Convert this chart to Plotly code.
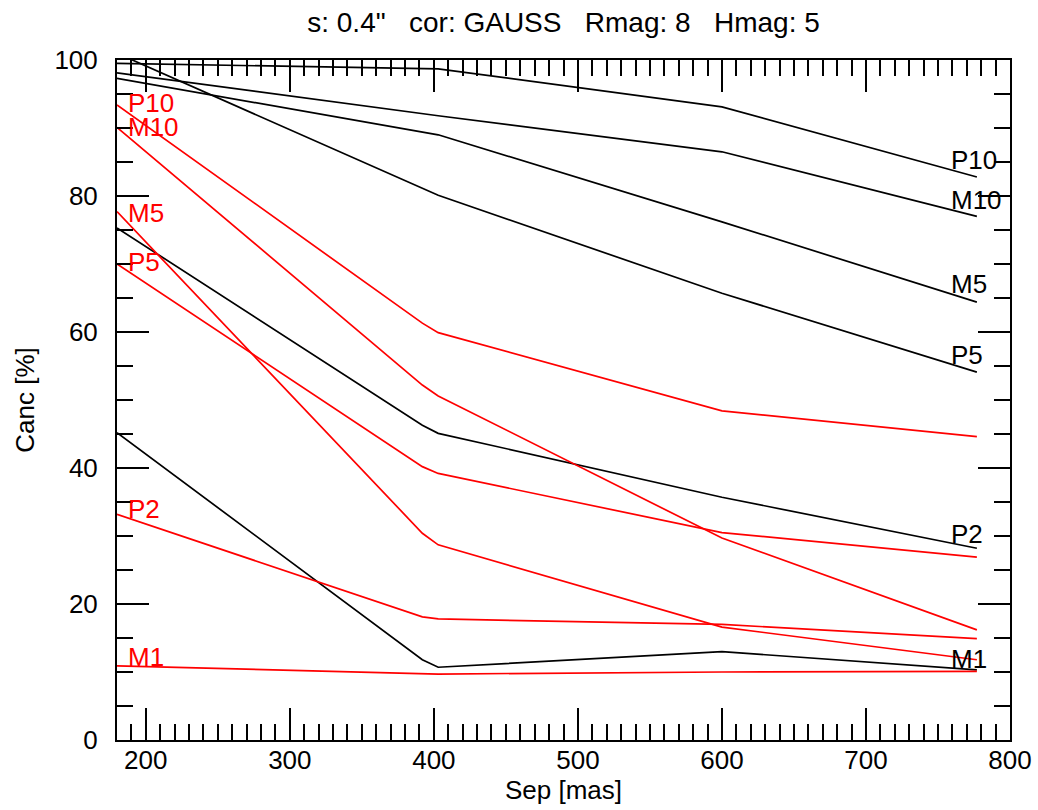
import numpy as np
import plotly.graph_objects as go

# ---- data ----
sep = [180, 392, 403, 600, 777]

black_names = ["P10", "M10", "M5", "P5", "P2", "M1"]
black_P10 = [99.5, 98.75, 98.7, 93.1, 82.8]
black_M10 = [98.1, 92.1, 91.8, 86.5, 77.0]
black_M5 = [97.3, 89.4, 89.0, 76.2, 64.4]
black_P5 = [101.0, 81.2, 80.1, 65.7, 54.1]
black_P2 = [75.3, 46.3, 45.1, 35.7, 28.2]
black_M1 = [45.2, 11.8, 10.7, 13.0, 10.3]

red_names = ["P10", "M10", "M5", "P5", "P2", "M1"]
red_P10 = [93.4, 61.3, 59.9, 48.4, 44.6]
red_M10 = [90.1, 52.2, 50.6, 29.7, 16.2]
red_M5 = [77.7, 30.4, 28.7, 16.6, 11.8]
red_P5 = [70.0, 40.2, 39.2, 30.5, 26.9]
red_P2 = [33.2, 18.1, 17.8, 17.0, 14.9]
red_M1 = [10.9, 9.8, 9.7, 10.0, 10.1]

x_ticks = [200, 300, 400, 500, 600, 700, 800]
y_ticks = [0, 20, 40, 60, 80, 100]

title_text = 's: 0.4"   cor: GAUSS   Rmag: 8   Hmag: 5'
x_title = "Sep [mas]"
y_title = "Canc [%]"

black_series = [black_P10, black_M10, black_M5, black_P5, black_P2, black_M1]
red_series = [red_P10, red_M10, red_M5, red_P5, red_P2, red_M1]

# ---- style ----
FONT = "Liberation Sans, Arial, Helvetica, sans-serif"
FS = 26
LW = 1.7
LABEL_X_LEFT = 187    # where red labels start (data units)
LABEL_X_RIGHT = 758   # where black labels start (data units)

fig = go.Figure()
for name, ys in zip(black_names, black_series):
    fig.add_trace(go.Scatter(x=sep, y=ys, mode="lines", name="b" + name,
                             line=dict(color="#000000", width=LW), showlegend=False))
for name, ys in zip(red_names, red_series):
    fig.add_trace(go.Scatter(x=sep, y=ys, mode="lines", name="r" + name,
                             line=dict(color="#ff0000", width=LW), showlegend=False))

annotations = []
for name, ys in zip(red_names, red_series):
    yb = float(np.interp(LABEL_X_LEFT, sep, ys))
    annotations.append(dict(x=LABEL_X_LEFT, y=yb, xref="x", yref="y", text=name,
                            showarrow=False, xanchor="left", yanchor="middle",
                            yshift=0.35 * FS, xshift=-1,
                            font=dict(family=FONT, size=FS, color="#ff0000")))
for name, ys in zip(black_names, black_series):
    yb = float(np.interp(LABEL_X_RIGHT, sep, ys))
    annotations.append(dict(x=LABEL_X_RIGHT, y=yb, xref="x", yref="y", text=name,
                            showarrow=False, xanchor="left", yanchor="middle",
                            yshift=0.35 * FS, xshift=-1,
                            font=dict(family=FONT, size=FS, color="#000000")))

axis_common = dict(
    showgrid=False, zeroline=False, showline=True, linecolor="#000000", linewidth=2,
    mirror="allticks", ticks="inside", ticklen=32, tickwidth=1.6, tickcolor="#000000",
    tickfont=dict(family=FONT, size=FS, color="#000000"), automargin=False,
)

fig.update_layout(
    width=1038, height=810, autosize=False,
    margin=dict(l=117, r=28, t=60, b=70, autoexpand=False),
    paper_bgcolor="white", plot_bgcolor="white",
    font=dict(family=FONT, size=FS, color="#000000"),
    title=dict(text=title_text, x=0.5, xref="paper", y=1 - 22 / 810, yref="container",
               xanchor="center", yanchor="middle", automargin=False,
               font=dict(family=FONT, size=28, color="#000000")),
    annotations=annotations,
)
fig.update_xaxes(range=[180, 800], tickmode="array", tickvals=x_ticks,
                 ticktext=[str(v) for v in x_ticks], ticklabelstandoff=-4,
                 minor=dict(dtick=10, tick0=0, ticks="inside", ticklen=16, tickwidth=1.6,
                            tickcolor="#000000", showgrid=False),
                 title=dict(text=x_title, standoff=6, font=dict(family=FONT, size=FS)),
                 **axis_common)
fig.update_yaxes(range=[0, 100], tickmode="array", tickvals=y_ticks,
                 ticktext=[str(v) for v in y_ticks], ticklabelstandoff=12,
                 minor=dict(dtick=5, tick0=0, ticks="inside", ticklen=16, tickwidth=1.6,
                            tickcolor="#000000", showgrid=False),
                 title=dict(text=y_title, standoff=12, font=dict(family=FONT, size=FS)),
                 **axis_common)

fig.write_html("out.html")
